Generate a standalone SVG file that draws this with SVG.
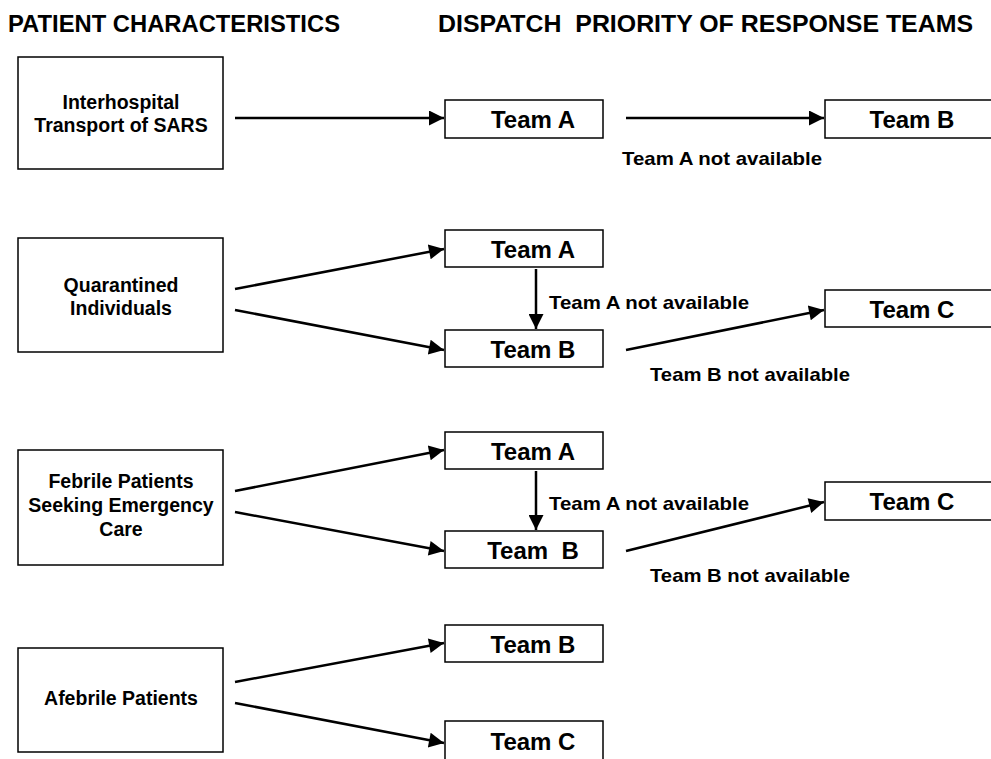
<svg xmlns="http://www.w3.org/2000/svg" width="991" height="759" viewBox="0 0 991 759">
<defs>
<style>
text{font-family:"Liberation Sans",Arial,sans-serif;font-weight:bold;fill:#000}
.hd{font-size:23px}
.nt{font-size:19.5px;text-anchor:middle}
.tm{font-size:24px;text-anchor:middle}
.lb{font-size:19px}
rect{fill:#fff;stroke:#000;stroke-width:1.5}
.c line{stroke:#000;stroke-width:2.5;marker-end:url(#ah)}
</style>
<marker id="ah" viewBox="0 0 10 10" refX="10" refY="5" markerWidth="8" markerHeight="6" markerUnits="strokeWidth" orient="auto">
<path d="M0,0 L10,5 L0,10 z" fill="#000"/>
</marker>
</defs>
<rect x="0" y="0" width="991" height="759" style="stroke:none;fill:#fff"/>
<text class="hd" x="8" y="32" textLength="332" lengthAdjust="spacingAndGlyphs">PATIENT CHARACTERISTICS</text>
<text class="hd" x="438" y="32" textLength="535" lengthAdjust="spacingAndGlyphs" xml:space="preserve">DISPATCH  PRIORITY OF RESPONSE TEAMS</text>

<g id="p1"><rect x="18" y="57" width="205" height="112"/><text class="nt" x="121" y="109">Interhospital</text><text class="nt" x="121" y="132">Transport of SARS</text></g>
<g id="r1a"><rect x="445" y="100" width="158" height="38"/><text class="tm" x="533" y="128">Team A</text></g>
<g id="r1b"><rect x="825" y="100" width="170" height="38"/><text class="tm" x="912" y="128">Team B</text></g>

<g id="p2"><rect x="18" y="238" width="205" height="114"/><text class="nt" x="121" y="292">Quarantined</text><text class="nt" x="121" y="315">Individuals</text></g>
<g id="r2a"><rect x="445" y="230" width="158" height="37"/><text class="tm" x="533" y="258">Team A</text></g>
<g id="r2b"><rect x="445" y="330" width="158" height="37"/><text class="tm" x="533" y="358">Team B</text></g>
<g id="r2c"><rect x="825" y="290" width="170" height="37"/><text class="tm" x="912" y="318">Team C</text></g>

<g id="p3"><rect x="18" y="450" width="205" height="115"/><text class="nt" x="121" y="488">Febrile Patients</text><text class="nt" x="121" y="512">Seeking Emergency</text><text class="nt" x="121" y="536">Care</text></g>
<g id="r3a"><rect x="445" y="432" width="158" height="37"/><text class="tm" x="533" y="460">Team A</text></g>
<g id="r3b"><rect x="445" y="531" width="158" height="37"/><text class="tm" x="533" y="559" xml:space="preserve">Team  B</text></g>
<g id="r3c"><rect x="825" y="482" width="170" height="38"/><text class="tm" x="912" y="510">Team C</text></g>

<g id="p4"><rect x="18" y="648" width="205" height="104"/><text class="nt" x="121" y="705">Afebrile Patients</text></g>
<g id="r4b"><rect x="445" y="625" width="158" height="37"/><text class="tm" x="533" y="653">Team B</text></g>
<g id="r4c"><rect x="445" y="721" width="158" height="45"/><text class="tm" x="533" y="750">Team C</text></g>

<g class="c" id="connectors">
<line x1="235" y1="118" x2="444" y2="118"/>
<line x1="626" y1="118" x2="824" y2="118"/>
<line x1="235" y1="289" x2="444" y2="249"/>
<line x1="235" y1="310" x2="444" y2="350"/>
<line x1="536" y1="269" x2="536" y2="329"/>
<line x1="626" y1="350" x2="824" y2="310"/>
<line x1="235" y1="491" x2="444" y2="450"/>
<line x1="235" y1="512" x2="444" y2="551"/>
<line x1="536" y1="471" x2="536" y2="530"/>
<line x1="626" y1="551" x2="824" y2="502"/>
<line x1="235" y1="682" x2="444" y2="643"/>
<line x1="235" y1="703" x2="444" y2="743"/>
</g>
<text class="lb" x="622" y="165" textLength="200" lengthAdjust="spacingAndGlyphs">Team A not available</text>
<text class="lb" x="549" y="309" textLength="200" lengthAdjust="spacingAndGlyphs">Team A not available</text>
<text class="lb" x="650" y="381" textLength="200" lengthAdjust="spacingAndGlyphs">Team B not available</text>
<text class="lb" x="549" y="510" textLength="200" lengthAdjust="spacingAndGlyphs">Team A not available</text>
<text class="lb" x="650" y="582" textLength="200" lengthAdjust="spacingAndGlyphs">Team B not available</text>
</svg>
